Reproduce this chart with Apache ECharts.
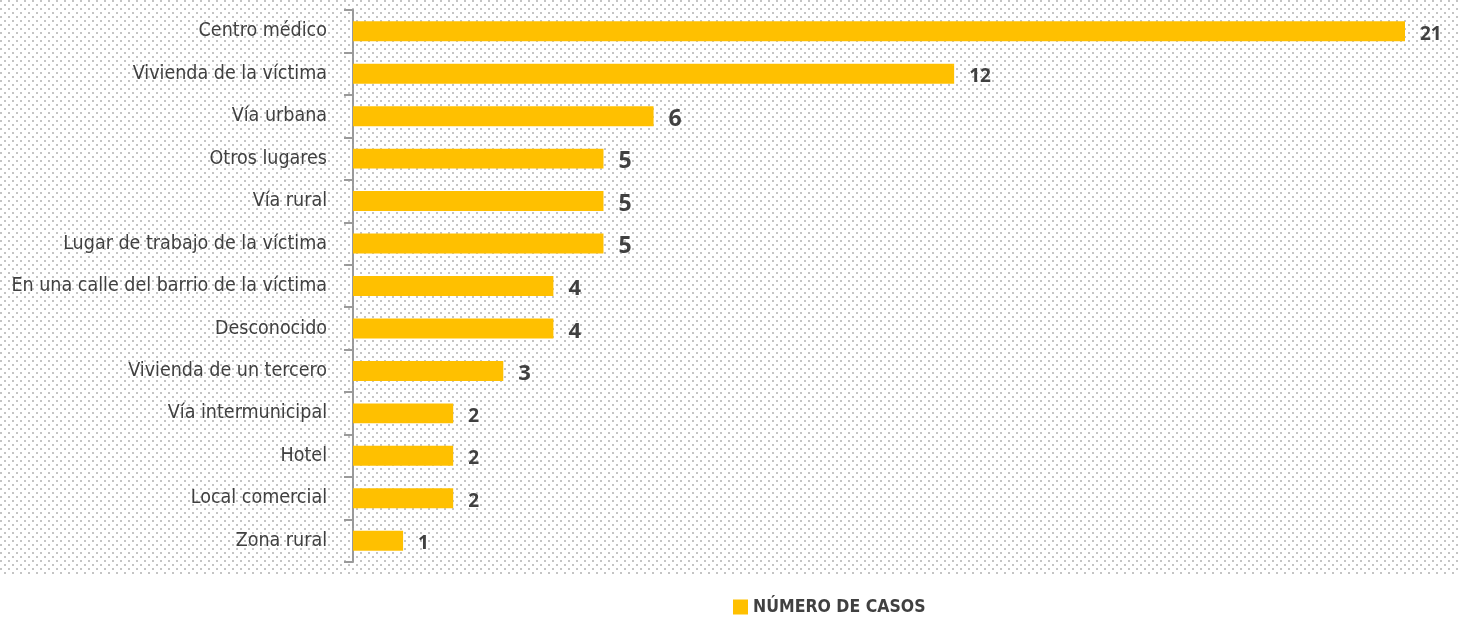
<!DOCTYPE html>
<html>
<head>
<meta charset="utf-8">
<script src="https://cdn.jsdelivr.net/npm/echarts@6/dist/echarts.min.js"></script>
<style>
html,body{margin:0;padding:0;background:#fff;}
#wrap{position:relative;width:1458px;height:628px;}
#bg{position:absolute;left:0;top:0;width:1458px;height:575px;
background-color:#fff;
background-image:
 radial-gradient(circle at 1px 1px, #c4c4c4 1px, transparent 1.1px),
 radial-gradient(circle at 5px 5px, #c4c4c4 1px, transparent 1.1px);
background-size:8px 8px;}
#chart{position:absolute;left:0;top:0;width:1458px;height:628px;}
</style>
</head>
<body>
<div id="wrap"><div id="bg"></div><div id="chart"></div></div>
<script>
const categories = ["Centro médico","Vivienda de la víctima","Vía urbana","Otros lugares","Vía rural","Lugar de trabajo de la víctima","En una calle del barrio de la víctima","Desconocido","Vivienda de un tercero","Vía intermunicipal","Hotel","Local comercial","Zona rural"];
const values = [21,12,6,5,5,5,4,4,3,2,2,2,1];
const labelSizes = [19,19,23,23,23,23,22,22,22,19,19,19,19];
const seriesName = "NÚMERO DE CASOS";

const chart = echarts.init(document.getElementById('chart'), null, {renderer:'canvas'});
const condensed = '"Liberation Sans Narrow","DejaVu Sans Condensed","Roboto Condensed",sans-serif';
chart.setOption({
  backgroundColor:'transparent',
  animation:false,
  grid:{left:353, right:53, top:10, bottom:66, containLabel:false, outerBoundsMode:'none'},
  legend:{
    data:[seriesName], bottom:7, left:728,
    itemWidth:15, itemHeight:15, icon:'rect', itemGap:5,
    textStyle:{fontFamily:condensed, fontSize:17.5, color:'#404040', fontWeight:'bold'}
  },
  xAxis:{type:'value', min:0, max:21, show:false},
  yAxis:{
    type:'category', data:categories, inverse:true,
    axisLine:{show:true, lineStyle:{color:'#9a9a9a', width:2}},
    axisTick:{show:true, length:9, lineStyle:{color:'#9a9a9a', width:2}},
    axisLabel:{fontFamily:condensed, fontSize:19.5, color:'#404040', margin:26}
  },
  series:[{
    name:seriesName, type:'bar', barWidth:'47%',
    itemStyle:{color:'#FFC000'},
    data: values.map((v,i)=>({value:v, label:{fontSize:labelSizes[i]}})),
    label:{show:true, position:'right', distance:15, color:'#404040',
      fontFamily:'"Open Sans","DejaVu Sans",sans-serif', fontWeight:'bold', offset:[0,3]}
  }]
});
</script>
</body>
</html>
